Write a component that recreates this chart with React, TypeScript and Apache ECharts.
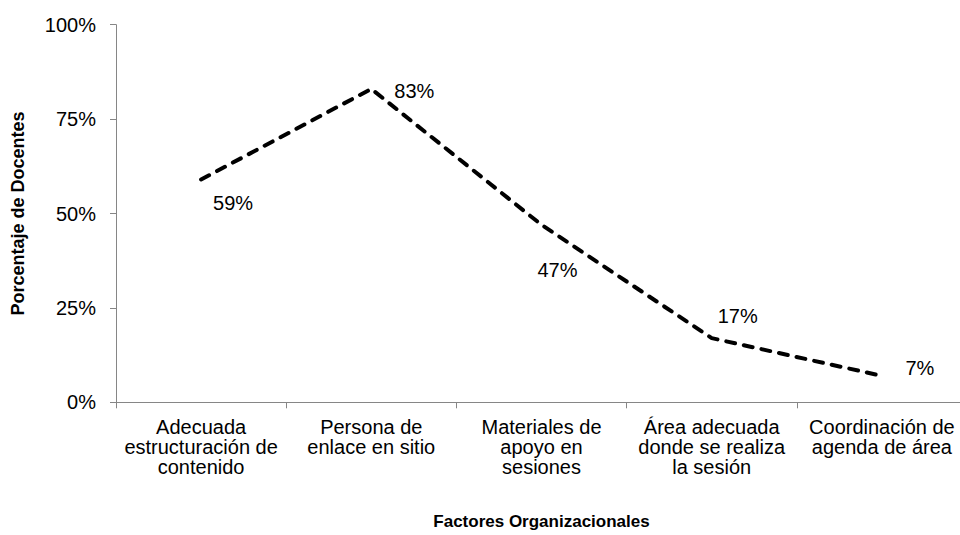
import React, { useEffect, useRef } from "react";
import * as echarts from "echarts";

const categories = [
  "Adecuada\nestructuración de\ncontenido",
  "Persona de\nenlace en sitio",
  "Materiales de\napoyo en\nsesiones",
  "Área adecuada\ndonde se realiza\nla sesión",
  "Coordinación de\nagenda de área",
];
const values = [59, 83, 47, 17, 7];
const yTicks = [0, 25, 50, 75, 100];

const labelOffsets: [number, number][] = [
  [32, 23],
  [43, 2],
  [16, 45],
  [26, -22],
  [38, -8],
];

export default function App() {
  const ref = useRef<HTMLDivElement>(null);
  useEffect(() => {
    if (!ref.current) return;
    const chart = echarts.init(ref.current, undefined, { renderer: "svg" });
    const font = "Liberation Sans, Arial, sans-serif";
    chart.setOption({
      animation: false,
      backgroundColor: "#ffffff",
      textStyle: { fontFamily: font },
      grid: {
        left: 116,
        width: 851,
        top: 24.7,
        bottom: 132.7,
        containLabel: false,
        outerBoundsMode: "none",
      },
      xAxis: {
        type: "category",
        data: categories,
        boundaryGap: true,
        name: "Factores Organizacionales",
        nameLocation: "middle",
        nameGap: 111,
        nameTextStyle: { fontFamily: font, fontWeight: "bold", fontSize: 17, color: "#000" },
        axisLine: { lineStyle: { color: "#868686", width: 1 } },
        axisTick: { show: true, length: 6, alignWithLabel: false, lineStyle: { color: "#868686" } },
        axisLabel: {
          interval: 0,
          margin: 15,
          fontFamily: font,
          fontSize: 20,
          lineHeight: 20,
          color: "#000",
        },
      },
      yAxis: {
        type: "value",
        min: yTicks[0],
        max: yTicks[yTicks.length - 1],
        interval: 25,
        name: "Porcentaje de Docentes",
        nameLocation: "middle",
        nameGap: 89,
        nameRotate: 90,
        nameTextStyle: { fontFamily: font, fontWeight: "bold", fontSize: 18, color: "#000" },
        splitLine: { show: false },
        axisLine: { show: true, lineStyle: { color: "#868686", width: 1 } },
        axisTick: { show: true, length: 6, lineStyle: { color: "#868686" } },
        axisLabel: {
          formatter: "{value}%",
          margin: 20,
          fontFamily: font,
          fontSize: 20,
          color: "#000",
        },
      },
      series: [
        {
          type: "line",
          data: values.map((v, i) => ({
            value: v,
            label: { offset: labelOffsets[i] },
          })),
          showSymbol: true,
          symbol: "circle",
          symbolSize: 0,
          lineStyle: { color: "#000", width: 4, type: [9, 9], cap: "round" },
          itemStyle: { color: "#000" },
          label: {
            show: true,
            position: "inside",
            formatter: "{c}%",
            fontFamily: font,
            fontSize: 20,
            color: "#000",
          },
        },
      ],
    });
    return () => chart.dispose();
  }, []);
  return <div ref={ref} style={{ width: 960, height: 535, position: "absolute", left: 0, top: 0 }} />;
}
